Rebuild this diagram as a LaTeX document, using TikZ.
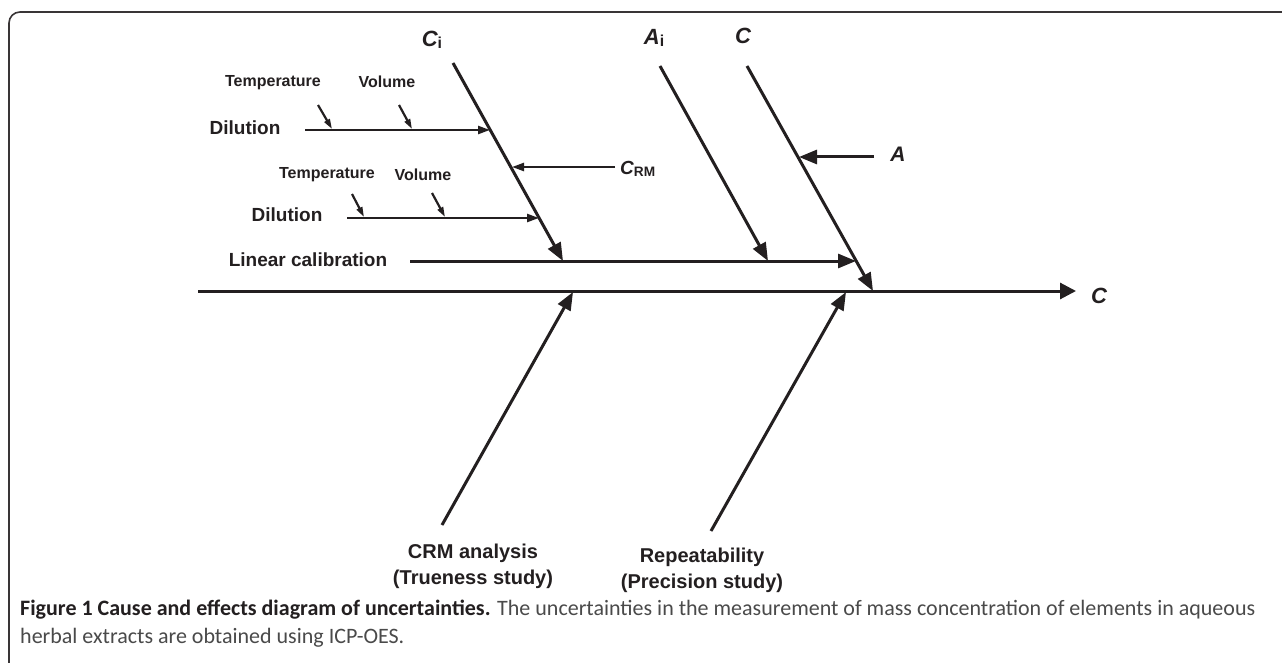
\documentclass[tikz,border=0pt]{standalone}
\usepackage{fontspec}
\setmainfont{Liberation Sans}
\newfontfamily\capfont{Carlito}
\usetikzlibrary{arrows.meta}
\definecolor{ink}{HTML}{231F20}
\definecolor{capgray}{HTML}{4A4A4A}
\newcommand{\varlab}[3]{{\fontsize{#3}{#3}\selectfont\bfseries\itshape #1}\raisebox{-0.25em}{\fontsize{#3}{#3}\selectfont\scalebox{0.72}{\bfseries #2}}}
\begin{document}
\begin{tikzpicture}[x=1pt,y=-1pt,
  bigline/.style={draw=ink,line width=3pt},
  bigarrow/.style={bigline,-{Triangle[length=18pt,width=14pt]}},
  midarrow/.style={draw=ink,line width=2.4pt,-{Triangle[length=12pt,width=8pt]}},
  smallarrow/.style={draw=ink,line width=2.2pt,-{Triangle[length=10pt,width=6pt]}},
  biglab/.style={font=\fontsize{19}{22}\selectfont\bfseries,text=ink,inner sep=0pt},
  smalllab/.style={font=\fontsize{16}{19}\selectfont\bfseries,text=ink,inner sep=0pt},
  studylab/.style={font=\fontsize{20}{26}\selectfont\bfseries,text=ink,inner sep=0pt,align=center},
  varnode/.style={text=ink,inner sep=0pt},
  caplab/.style={anchor=base west,inner sep=0pt,font=\capfont\fontsize{22}{26}\selectfont,text=capgray}]
\useasboundingbox (0,0) rectangle (1282,663);
\fill[white] (0,0) rectangle (1282,663);
% frame
\draw[draw=ink!90,line width=1.6pt] (1282,12) -- (20,12) arc[start angle=270,end angle=180,radius=11] -- (9,663);

% coordinates
\coordinate (S0) at (198,291);
\coordinate (S1) at (1076,291);
\coordinate (Ci0) at (453,63);
\coordinate (Ci1) at (563,261);
\coordinate (Ai0) at (660,66);
\coordinate (Ai1) at (768,261);
\coordinate (Cd0) at (747,66);
\coordinate (Cd1) at (873,291);
\coordinate (L0) at (410,261);
\coordinate (L1) at (856,261);
\coordinate (A0) at (874,157);
\coordinate (A1) at (799,157);
\coordinate (R0) at (615,167);
\coordinate (R1) at (512,167);
\coordinate (D10) at (305,130);
\coordinate (D11) at (490,130);
\coordinate (D20) at (347,218);
\coordinate (D21) at (539,218);
\coordinate (T10) at (318,105);
\coordinate (T11) at (332,129);
\coordinate (V10) at (399,105);
\coordinate (V11) at (412,129);
\coordinate (T20) at (352,194);
\coordinate (T21) at (364,217);
\coordinate (V20) at (432,193);
\coordinate (V21) at (445,217);
\coordinate (M0) at (442,525);
\coordinate (M1) at (573,292);
\coordinate (P0) at (711,531);
\coordinate (P1) at (846,292);

% labels
\node[varnode] (lCi) at (432,40) {\varlab{C}{i}{22}};
\node[varnode] (lAi) at (654,38) {\varlab{A}{i}{22}};
\node[varnode] (lC) at (743,37) {\varlab{C}{}{22}};
\node[varnode] (lA) at (898,156) {\varlab{A}{}{21}};
\node[varnode,anchor=west] (lCRM) at (620,169) {\varlab{C}{RM}{19}};
\node[varnode] (lCout) at (1099,297) {\varlab{C}{}{22}};
\node[smalllab] (t1) at (273,83) {Temperature};
\node[smalllab] (v1) at (387,82) {Volume};
\node[biglab] (d1) at (245,128) {Dilution};
\node[smalllab] (t2) at (327,175) {Temperature};
\node[smalllab] (v2) at (423,175) {Volume};
\node[biglab] (d2) at (287,215) {Dilution};
\node[biglab] (lin) at (308,260) {Linear calibration};
\node[studylab] (crm) at (473,566) {CRM analysis\\(Trueness study)};
\node[studylab] (rep) at (702,570) {Repeatability\\(Precision study)};

% connectors
\draw[draw=ink,line width=3pt,-{Triangle[length=16pt,width=16pt]}] (S0) -- (S1);
\draw[bigarrow] (L0) -- (L1);
\draw[bigarrow] (Ci0) -- (Ci1);
\draw[bigarrow] (Ai0) -- (Ai1);
\draw[bigarrow] (Cd0) -- (Cd1);
\draw[bigarrow] (A0) -- (A1);
\draw[midarrow] (R0) -- (R1);
\draw[midarrow] (D10) -- (D11);
\draw[midarrow] (D20) -- (D21);
\draw[smallarrow] (T10) -- (T11);
\draw[smallarrow] (V10) -- (V11);
\draw[smallarrow] (T20) -- (T21);
\draw[smallarrow] (V20) -- (V21);
\draw[bigarrow] (M0) -- (M1);
\draw[bigarrow] (P0) -- (P1);

% caption
\node[caplab] (cap1) at (20,615)
  {{\bfseries\color{ink}Figure 1 Cause and effects diagram of uncertainties.} The uncertainties in the measurement of mass concentration of elements in aqueous};
\node[caplab] (cap2) at (20,643)
  {herbal extracts are obtained using ICP-OES.};
\end{tikzpicture}
\end{document}
